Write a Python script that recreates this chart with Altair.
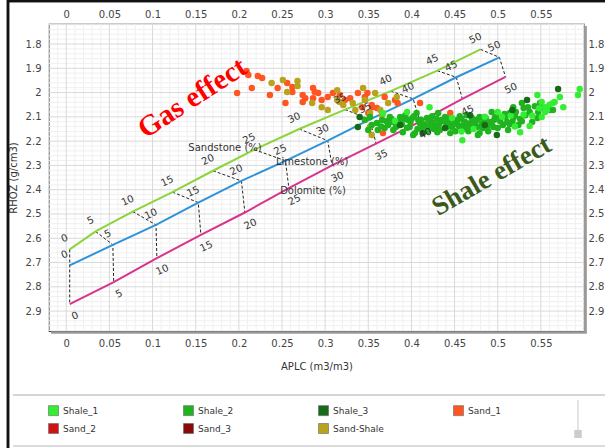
import altair as alt
import pandas as pd

# ---------------- data ----------------
porosity = [0, 5, 10, 15, 20, 25, 30, 35, 40, 45, 50]
sand_apl = [0.004, 0.034, 0.077, 0.123, 0.170, 0.218, 0.270, 0.323, 0.376, 0.430, 0.480]
sand_rho = [2.646, 2.572, 2.490, 2.410, 2.322, 2.235, 2.150, 2.070, 1.994, 1.910, 1.822]
lime_apl = [0.004, 0.054, 0.104, 0.153, 0.203, 0.254, 0.303, 0.352, 0.402, 0.452, 0.502]
lime_rho = [2.712, 2.627, 2.545, 2.453, 2.364, 2.281, 2.198, 2.110, 2.026, 1.937, 1.855]
dolo_apl = [0.004, 0.055, 0.105, 0.156, 0.207, 0.258, 0.308, 0.359, 0.410, 0.459, 0.509]
dolo_rho = [2.871, 2.781, 2.682, 2.586, 2.494, 2.394, 2.300, 2.210, 2.120, 2.026, 1.935]

line_names = ["Sandstone (%)", "Limestone (%)", "Dolomite (%)"]
line_name_apl = [0.184, 0.285, 0.286]
line_name_rho = [2.228, 2.286, 2.406]

shale1_apl = [0.367, 0.395, 0.421, 0.459, 0.546, 0.555, 0.564, 0.572, 0.576, 0.595, 0.593, 0.526,
              0.555, 0.551, 0.566, 0.557, 0.551, 0.381, 0.447, 0.500, 0.537,
              0.505, 0.515, 0.530, 0.540, 0.548, 0.472, 0.485, 0.520, 0.458, 0.560]
shale1_rho = [2.084, 2.080, 2.060, 2.196, 2.010, 2.080, 2.043, 2.018, 2.060, 1.985, 2.010, 2.163,
              2.060, 2.101, 2.039, 2.072, 2.039, 2.117, 2.105, 2.080, 2.138,
              2.100, 2.095, 2.090, 2.095, 2.065, 2.150, 2.100, 2.140, 2.160, 2.050]

shale2_apl = [0.346, 0.352, 0.366, 0.375, 0.379, 0.387, 0.396, 0.406, 0.410, 0.418, 0.425, 0.431,
              0.435, 0.441, 0.453, 0.460, 0.468, 0.430, 0.413, 0.404, 0.390, 0.379, 0.369, 0.445,
              0.476, 0.477, 0.464, 0.479, 0.493, 0.503, 0.514, 0.518, 0.528, 0.535, 0.549, 0.561,
              0.546, 0.532, 0.524, 0.511, 0.495, 0.483, 0.471, 0.518, 0.564, 0.553, 0.402, 0.479,
              0.354, 0.361, 0.373, 0.382, 0.389, 0.398, 0.401, 0.408, 0.416, 0.419, 0.424, 0.428,
              0.433, 0.439, 0.442, 0.447, 0.451, 0.454, 0.456, 0.462, 0.466, 0.470, 0.474, 0.482,
              0.486, 0.489, 0.491, 0.497, 0.500, 0.506, 0.508, 0.512, 0.517, 0.521, 0.526, 0.530,
              0.537, 0.540, 0.543, 0.547, 0.350, 0.393,
              0.360, 0.365, 0.371, 0.377, 0.383, 0.386, 0.392, 0.395, 0.399, 0.403, 0.407, 0.411,
              0.414, 0.420, 0.422, 0.426, 0.429, 0.432, 0.437, 0.440, 0.444, 0.446, 0.450, 0.456,
              0.458, 0.461, 0.464, 0.468, 0.472, 0.476, 0.480, 0.484, 0.488, 0.493, 0.496, 0.503,
              0.509, 0.514, 0.520, 0.528]
shale2_rho = [2.113, 2.101, 2.113, 2.101, 2.121, 2.101, 2.113, 2.084, 2.126, 2.105, 2.126, 2.084,
              2.113, 2.142, 2.113, 2.146, 2.126, 2.163, 2.146, 2.167, 2.163, 2.154, 2.146, 2.167,
              2.142, 2.175, 2.093, 2.101, 2.080, 2.105, 2.084, 2.060, 2.043, 2.060, 2.043, 2.072,
              2.105, 2.093, 2.134, 2.121, 2.142, 2.146, 2.142, 2.105, 2.072, 2.064, 2.175, 2.167,
              2.134, 2.154, 2.134, 2.142, 2.130, 2.142, 2.105, 2.113, 2.130, 2.159, 2.097, 2.138,
              2.154, 2.101, 2.126, 2.142, 2.159, 2.134, 2.097, 2.121, 2.159, 2.105, 2.121, 2.126,
              2.105, 2.159, 2.121, 2.101, 2.146, 2.134, 2.088, 2.154, 2.121, 2.080, 2.109, 2.064,
              2.080, 2.121, 2.056, 2.080, 2.154, 2.093,
              2.125, 2.140, 2.118, 2.110, 2.138, 2.118, 2.108, 2.145, 2.120, 2.098, 2.150, 2.112,
              2.135, 2.140, 2.118, 2.150, 2.108, 2.130, 2.118, 2.142, 2.108, 2.133, 2.120, 2.140,
              2.108, 2.130, 2.150, 2.138, 2.130, 2.112, 2.140, 2.115, 2.140, 2.130, 2.112, 2.118,
              2.100, 2.130, 2.095, 2.118]

shale3_apl = [0.340, 0.338, 0.534, 0.570, 0.499, 0.413, 0.387, 0.439, 0.468, 0.485, 0.517]
shale3_rho = [2.101, 2.142, 2.031, 1.985, 2.175, 2.167, 2.134, 2.146, 2.093, 2.134, 2.072]

sand1_apl = [0.209, 0.211, 0.222, 0.227, 0.215, 0.198, 0.245, 0.256, 0.262, 0.262, 0.274, 0.277,
             0.274, 0.254, 0.286, 0.288, 0.292, 0.286, 0.296, 0.303, 0.309, 0.323, 0.338, 0.349,
             0.343, 0.355, 0.350, 0.346, 0.354, 0.360, 0.384, 0.410, 0.445, 0.367, 0.236, 0.317,
             0.329, 0.369, 0.381]
sand1_rho = [1.911, 1.928, 1.932, 1.940, 1.981, 2.002, 1.981, 1.961, 1.977, 1.998, 2.010, 2.023,
             2.039, 2.043, 1.981, 1.998, 2.002, 2.023, 2.031, 2.018, 2.002, 2.031, 2.002, 2.002,
             2.060, 2.060, 2.084, 2.018, 2.051, 2.064, 2.043, 2.043, 2.084, 2.167, 2.010, 2.010,
             2.023, 2.018, 2.031]

sandshale_apl = [0.238, 0.251, 0.268, 0.268, 0.256, 0.285, 0.296, 0.303, 0.314, 0.314, 0.317, 0.321,
                 0.332, 0.344, 0.346, 0.358, 0.354, 0.352, 0.364, 0.373, 0.383, 0.352, 0.366, 0.335]
sandshale_rho = [1.961, 1.948, 1.952, 1.973, 1.998, 2.043, 2.060, 2.072, 1.990, 2.031, 2.039, 2.051,
                 2.043, 1.981, 2.031, 2.002, 2.175, 2.142, 2.072, 2.043, 2.018, 2.084, 2.092, 2.072]

categories = ["Shale_1", "Shale_2", "Shale_3", "Sand_1", "Sand_2", "Sand_3", "Sand-Shale"]
cat_colors = ["#33ee33", "#1fb41f", "#166b16", "#ff5522", "#cc1414", "#880a0a", "#b8a21e"]

x_ticks = [0, 0.05, 0.1, 0.15, 0.2, 0.25, 0.3, 0.35, 0.4, 0.45, 0.5, 0.55]
y_ticks = [1.8, 1.9, 2.0, 2.1, 2.2, 2.3, 2.4, 2.5, 2.6, 2.7, 2.8, 2.9]

annotations = ["Gas effect", "Shale effect"]
annot_apl = [0.146, 0.493]
annot_rho = [2.022, 2.344]

# ---------------- tables ----------------
X_DOM = [-0.02, 0.6]
Y_DOM = [1.7176, 2.982]
FONT = "DejaVu Sans"

lith_rows = []
for name, a, r in [("Sandstone", sand_apl, sand_rho), ("Limestone", lime_apl, lime_rho),
                   ("Dolomite", dolo_apl, dolo_rho)]:
    for p, ai, ri in zip(porosity, a, r):
        lith_rows.append({"lith": name, "por": p, "apl": ai, "rho": ri})
lith_df = pd.DataFrame(lith_rows)

conn_rows = []
for i, p in enumerate(porosity):
    conn_rows.append({"por": p, "seq": 0, "apl": sand_apl[i], "rho": sand_rho[i]})
    conn_rows.append({"por": p, "seq": 1, "apl": lime_apl[i], "rho": lime_rho[i]})
    conn_rows.append({"por": p, "seq": 2, "apl": dolo_apl[i], "rho": dolo_rho[i]})
conn_df = pd.DataFrame(conn_rows)

pts = []
for cat, a, r in [("Sand_1", sand1_apl, sand1_rho), ("Sand-Shale", sandshale_apl, sandshale_rho),
                  ("Shale_2", shale2_apl, shale2_rho), ("Shale_1", shale1_apl, shale1_rho),
                  ("Shale_3", shale3_apl, shale3_rho)]:
    for ai, ri in zip(a, r):
        pts.append({"cat": cat, "apl": ai, "rho": ri})
pts_df = pd.DataFrame(pts)

names_df = pd.DataFrame({"name": line_names, "apl": line_name_apl, "rho": line_name_rho})
annot_df = pd.DataFrame({"t": annotations, "apl": annot_apl, "rho": annot_rho})

x_minor = [round(-0.02 + 0.01 * i, 2) for i in range(63)]
x_minor = [v for v in x_minor if all(abs(v - t) > 1e-6 for t in x_ticks)]
y_minor = [round(1.72 + 0.02 * i, 2) for i in range(64)]
y_minor = [v for v in y_minor if all(abs(v - t) > 1e-6 for t in y_ticks) and v <= 2.98]

xs = alt.Scale(domain=X_DOM, nice=False, zero=False)
ys = alt.Scale(domain=Y_DOM, nice=False, zero=False, reverse=True)

def X(axis=None):
    return alt.X("apl:Q", scale=xs, axis=axis)

def Y(axis=None):
    return alt.Y("rho:Q", scale=ys, axis=axis)

# ---------------- grid ----------------
gx_minor = alt.Chart(pd.DataFrame({"apl": x_minor})).mark_rule(color="#f0f0f0", strokeWidth=1).encode(x=X())
gy_minor = alt.Chart(pd.DataFrame({"rho": y_minor})).mark_rule(color="#f0f0f0", strokeWidth=1).encode(y=Y())
gx_major = alt.Chart(pd.DataFrame({"apl": x_ticks})).mark_rule(color="#d9d9d9", strokeWidth=1).encode(x=X())
gy_major = alt.Chart(pd.DataFrame({"rho": y_ticks})).mark_rule(color="#d9d9d9", strokeWidth=1).encode(y=Y())

axis_common = dict(grid=False, ticks=False, domain=False, labelFont=FONT,
                   labelFontSize=10, labelColor="#444", titleFont=FONT, titleFontSize=10,
                   titleFontWeight="normal", titleColor="#333")

ax_bottom = alt.Axis(orient="bottom", values=x_ticks, labelExpr="format(datum.value, '~g')",
                     title="APLC (m3/m3)", labelPadding=7, titlePadding=13, **axis_common)
ax_top = alt.Axis(orient="top", values=x_ticks, labelExpr="format(datum.value, '~g')",
                  title=None, labelPadding=5, **axis_common)
ax_left = alt.Axis(orient="left", values=y_ticks, labelExpr="format(datum.value, '~g')",
                   title="RHOZ (g/cm3)", labelPadding=8, titlePadding=7, **axis_common)
ax_right = alt.Axis(orient="right", values=y_ticks, labelExpr="format(datum.value, '~g')",
                    title=None, labelPadding=4, **axis_common)

# ---------------- lithology lines ----------------
lines = alt.Chart(lith_df).mark_line(strokeWidth=2).encode(
    x=X(ax_top), y=Y(ax_right),
    stroke=alt.Stroke("lith:N", scale=alt.Scale(domain=["Sandstone", "Limestone", "Dolomite"],
                                                 range=["#8cd43c", "#2f93d8", "#d8348e"]), legend=None),
    detail="lith:N", order="por:Q")

conn = alt.Chart(conn_df).mark_line(strokeDash=[3, 2], color="#222", strokeWidth=1).encode(
    x=X(), y=Y(), detail="por:N", order="seq:Q")

lab_up = alt.Chart(lith_df).transform_filter("datum.lith != 'Dolomite'").mark_text(
    angle=335, dy=-12, font=FONT, fontSize=10, color="#333").encode(
    x=X(), y=Y(), text="por:Q")
lab_dn = alt.Chart(lith_df).transform_filter("datum.lith == 'Dolomite'").mark_text(
    angle=335, dy=13, font=FONT, fontSize=10, color="#333").encode(
    x=X(), y=Y(), text="por:Q")

names = alt.Chart(names_df).mark_text(font=FONT, fontSize=10, color="#333").encode(
    x=X(), y=Y(), text="name:N")

# ---------------- scatter ----------------
scatter = alt.Chart(pts_df).mark_point(filled=True, size=42, opacity=1, shape="circle").encode(
    x=X(ax_bottom), y=Y(ax_left),
    color=alt.Color("cat:N", scale=alt.Scale(domain=categories, range=cat_colors),
                    legend=alt.Legend(title=None, orient="none", legendX=-1, legendY=381,
                                      direction="horizontal",
                                      columns=4, symbolType="square", symbolSize=100,
                                      symbolStrokeColor="#666", symbolStrokeWidth=0.6,
                                      labelFont=FONT, labelFontSize=9, labelColor="#333",
                                      columnPadding=68, rowPadding=5, gridAlign="all",
                                      padding=0, labelOffset=4)))

# ---------------- annotations ----------------
gas = alt.Chart(annot_df).transform_filter("datum.t == 'Gas effect'").mark_text(
    font="Liberation Serif", fontWeight="bold", fontSize=29, angle=327, color="#ff0000").encode(
    x=X(), y=Y(), text="t:N")
shale = alt.Chart(annot_df).transform_filter("datum.t == 'Shale effect'").mark_text(
    font="Liberation Serif", fontWeight="bold", fontSize=27, angle=330, color="#3a5a1c").encode(
    x=X(), y=Y(), text="t:N")

# ---------------- decorations ----------------
shadow_r = alt.Chart(annot_df).mark_rule(color="#9a9a9a", strokeWidth=2).encode(
    x=alt.value(536.6), y=alt.value(2), y2=alt.value(309))
shadow_b = alt.Chart(annot_df).mark_rule(color="#9a9a9a", strokeWidth=2).encode(
    x=alt.value(2), x2=alt.value(537.6), y=alt.value(308.6))
sep = alt.Chart(annot_df).mark_rule(color="#c8c8c8", strokeWidth=1).encode(
    x=alt.value(-36), x2=alt.value(556), y=alt.value(371))
bottom_line = alt.Chart(annot_df).mark_rule(color="#d0d0d0", strokeWidth=1).encode(
    x=alt.value(-36), x2=alt.value(556), y=alt.value(422))
scroll_track = alt.Chart(annot_df).mark_rule(color="#e4e4e4", strokeWidth=2).encode(
    x=alt.value(529), y=alt.value(376), y2=alt.value(406))
scroll_thumb = alt.Chart(annot_df).mark_rule(color="#cccccc", strokeWidth=7).encode(
    x=alt.value(529), y=alt.value(406), y2=alt.value(414))
left_border = alt.Chart(annot_df).mark_rule(color="#111", strokeWidth=2.5).encode(
    x=alt.value(-41), y=alt.value(-24), y2=alt.value(424))
top_border = alt.Chart(annot_df).mark_rule(color="#111", strokeWidth=2.5).encode(
    x=alt.value(-41), x2=alt.value(556), y=alt.value(-23))

chart = alt.layer(
    gx_minor, gy_minor, gx_major, gy_major, conn, lines, scatter, lab_up, lab_dn, names,
    gas, shale, shadow_r, shadow_b, sep, bottom_line, scroll_track, scroll_thumb,
    left_border, top_border
).resolve_axis(x="independent", y="independent").properties(
    width=535, height=307,
    autosize=alt.AutoSizeParams(type="none"),
    padding={"left": 49, "top": 24, "right": 21, "bottom": 117},
).configure_view(stroke="#333", strokeWidth=1.2)

chart.save("out.html", embed_options={"renderer": "svg", "actions": False})
